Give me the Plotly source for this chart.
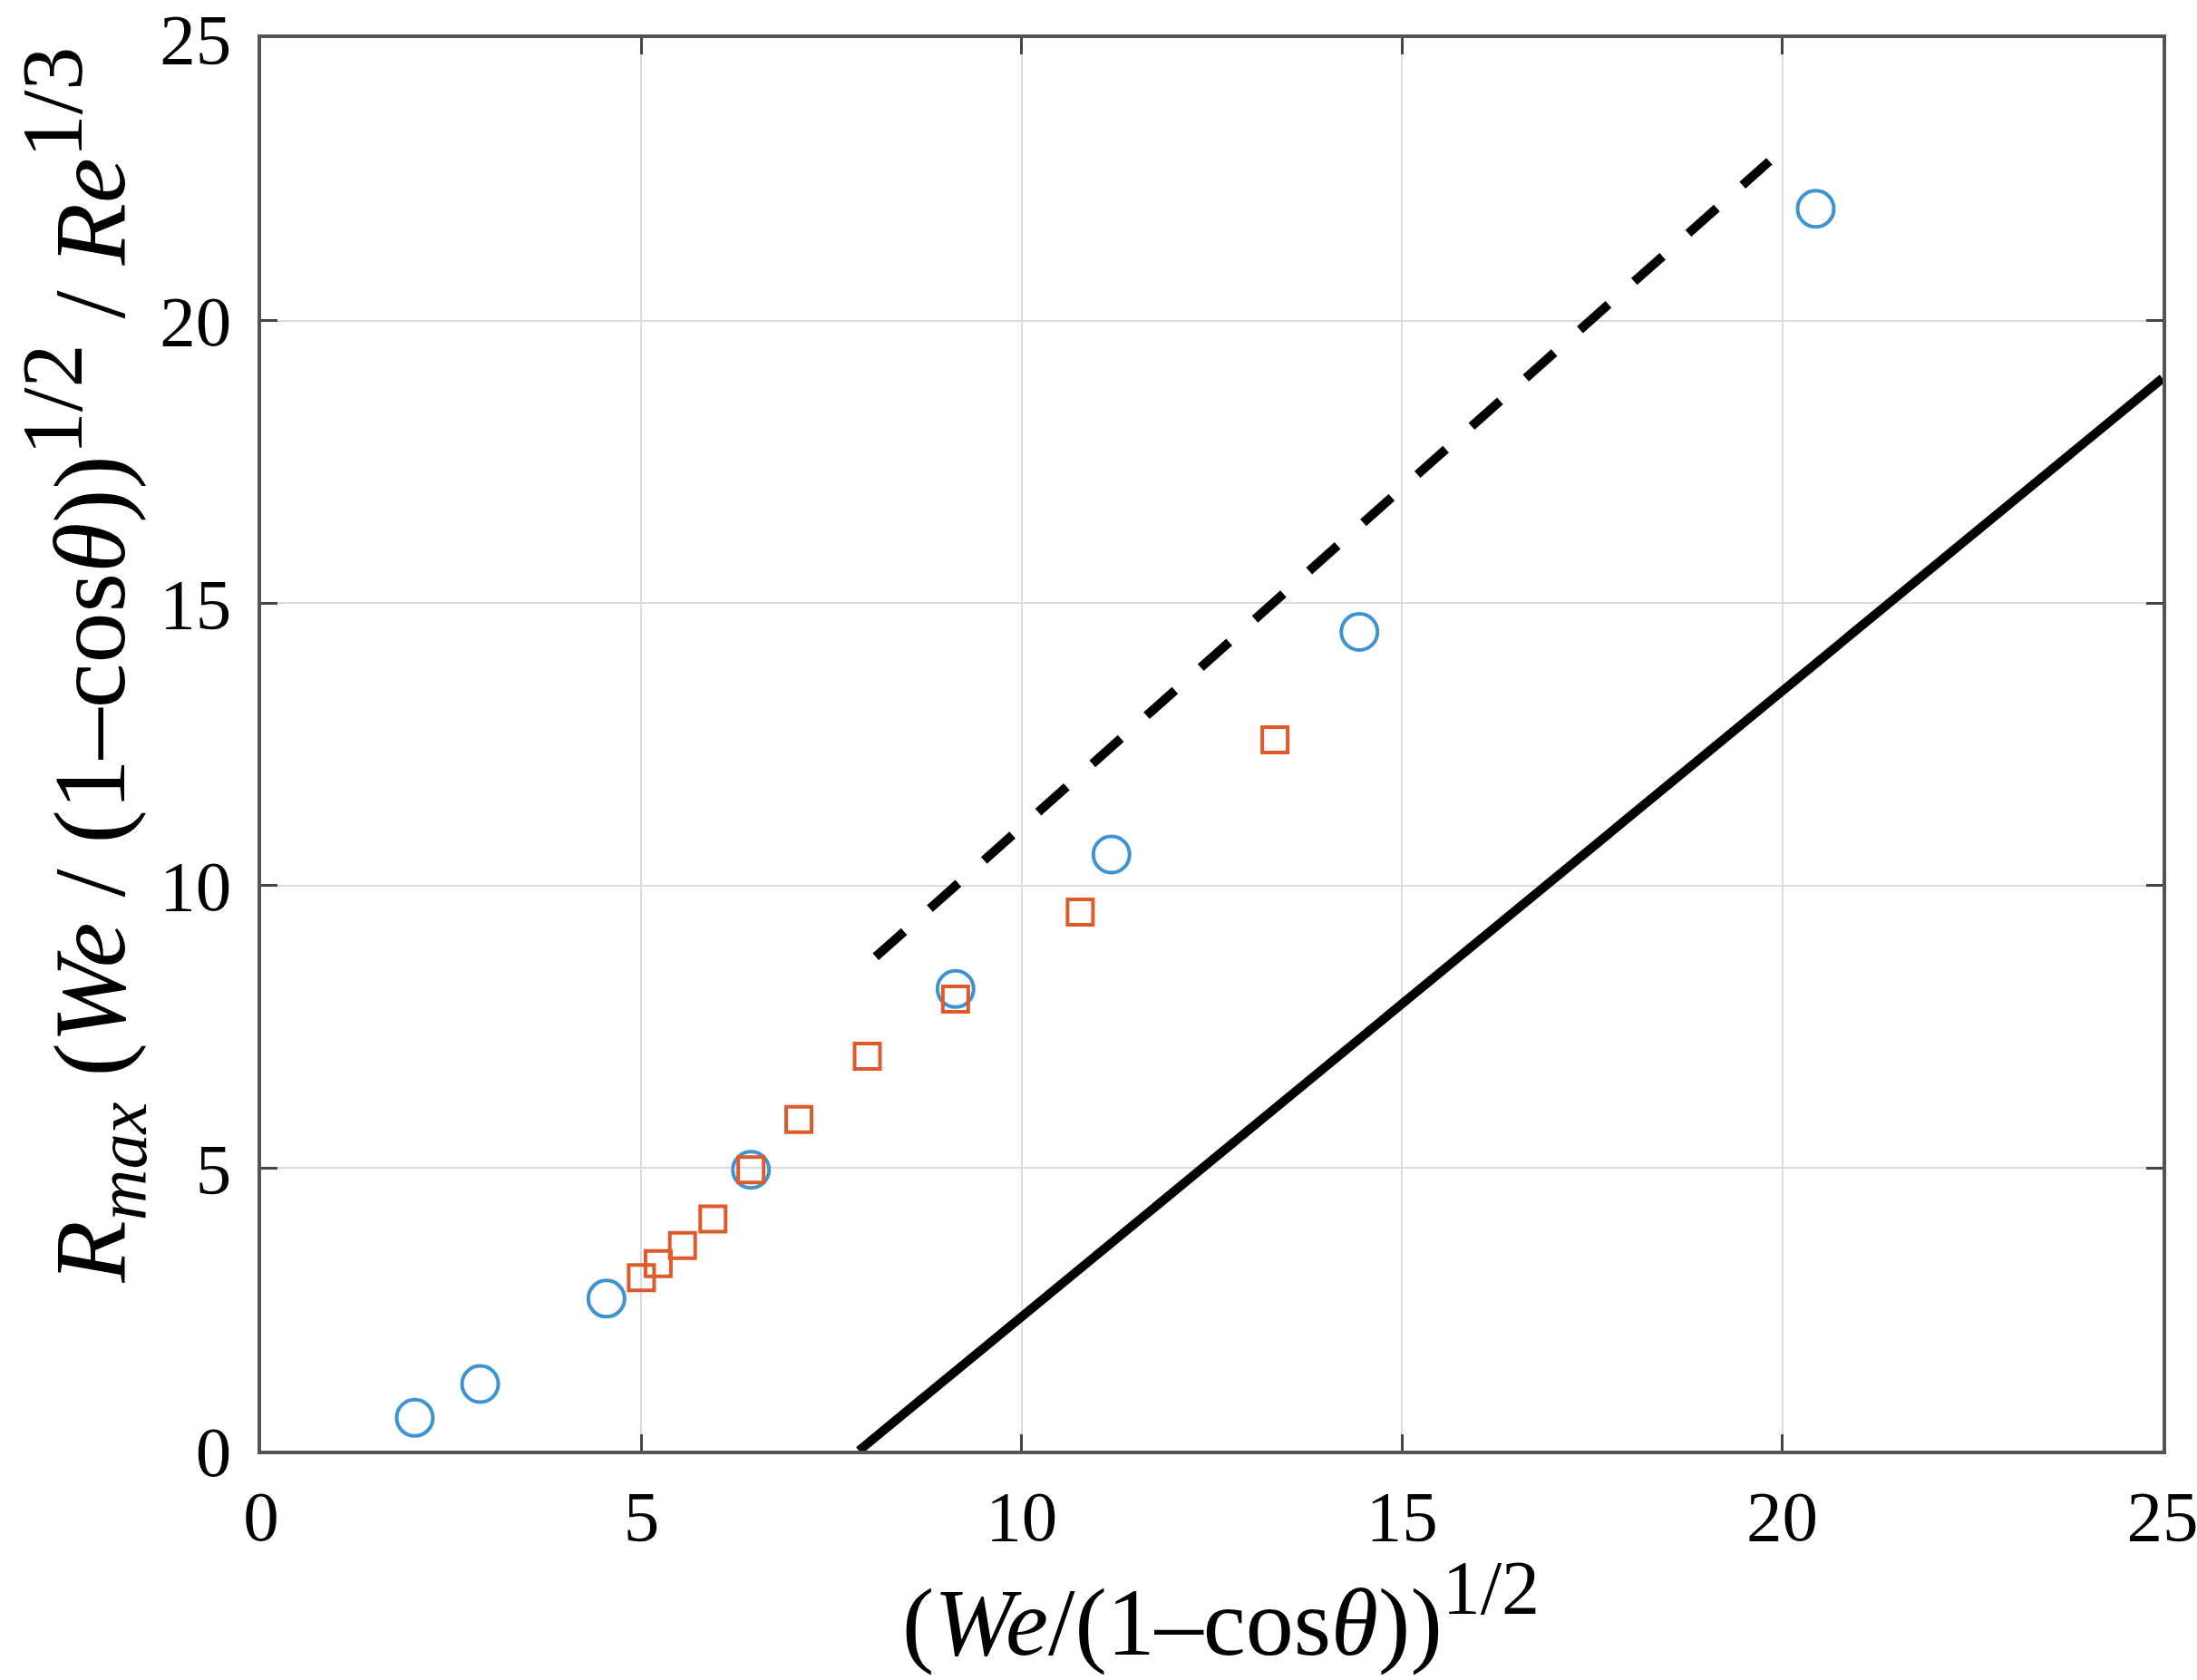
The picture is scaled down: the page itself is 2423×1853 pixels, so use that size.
import plotly.graph_objects as go

# ------------------------------------------------------
# data
# ------------------------------------------------------
circle_x = [2.02, 2.88, 4.54, 6.44, 9.13, 11.18, 14.44, 20.44]
circle_y = [0.58, 1.18, 2.69, 4.97, 8.17, 10.55, 14.49, 21.98]

square_x = [5.00, 5.22, 5.54, 5.94, 6.44, 7.07, 7.97, 9.13, 10.77, 13.33]
square_y = [3.06, 3.31, 3.63, 4.10, 4.97, 5.86, 6.98, 7.99, 9.53, 12.58]

dashed_x = [8.08, 19.83]
dashed_y = [8.74, 22.82]

solid_x = [7.86, 25.0]
solid_y = [0.0, 18.98]

tick_vals = [0, 5, 10, 15, 20, 25]

FONT = "Liberation Serif, Times New Roman, serif"
BLUE = "#3D93D4"
ORANGE = "#DE5A2A"


def sup(txt, px):
    return f'<sup><span style="font-size:{px}px">{txt}</span></sup>'


fig = go.Figure()

fig.add_trace(go.Scatter(x=solid_x, y=solid_y, mode="lines",
                         line=dict(color="black", width=10), showlegend=False))
fig.add_trace(go.Scatter(x=dashed_x, y=dashed_y, mode="lines",
                         line=dict(color="black", width=10, dash="42px,38px"),
                         showlegend=False))
fig.add_trace(go.Scatter(x=circle_x, y=circle_y, mode="markers",
                         marker=dict(symbol="circle-open", size=40, color=BLUE,
                                     line=dict(color=BLUE, width=4)),
                         showlegend=False))
fig.add_trace(go.Scatter(x=square_x, y=square_y, mode="markers",
                         marker=dict(symbol="square-open", size=28, color=ORANGE,
                                     line=dict(color=ORANGE, width=4)),
                         showlegend=False))

axis_common = dict(
    range=[0, 25],
    tickvals=tick_vals,
    showgrid=True, gridcolor="#DCDCDC", gridwidth=2,
    zeroline=False, automargin=False,
    showline=True, linecolor="#555555", linewidth=4, mirror="allticks",
    ticks="inside", ticklen=18, tickwidth=3, tickcolor="#444444",
    ticklabeloverflow="allow",
    tickfont=dict(family=FONT, size=79, color="black"),
)

fig.update_xaxes(**axis_common, ticklabelstandoff=0)
fig.update_yaxes(**axis_common, ticklabelstandoff=13)

# axis titles as annotations so they can sit where the original has them
x_title = "(<i>We</i>/(1\u2013cos<i>\u03b8</i>))" + sup("1/2", 84)
y_title = ("<i>R</i><sub><i>max</i></sub> (<i>We</i> / (1\u2013cos<i>\u03b8</i>))"
           + sup("1/2", 96) + " / <i>Re</i>" + sup("1/3", 96))

fig.add_annotation(text=x_title, xref="paper", yref="paper", x=0.505, y=-0.113,
                   xanchor="center", yanchor="middle", showarrow=False,
                   font=dict(family=FONT, size=106, color="black"))
fig.add_annotation(text=y_title, xref="paper", yref="paper", x=-0.094, y=0.556,
                   xanchor="center", yanchor="middle", textangle=-90, showarrow=False,
                   font=dict(family=FONT, size=112, color="black"))

fig.update_layout(
    width=2423, height=1853,
    margin=dict(l=288, r=38, t=42, b=253),
    paper_bgcolor="white", plot_bgcolor="white",
)

# drop the page's default body margin so the figure fills the window exactly
fig.write_html("out.html", config={"displayModeBar": False},
               post_script="document.body.style.margin='0px';")
